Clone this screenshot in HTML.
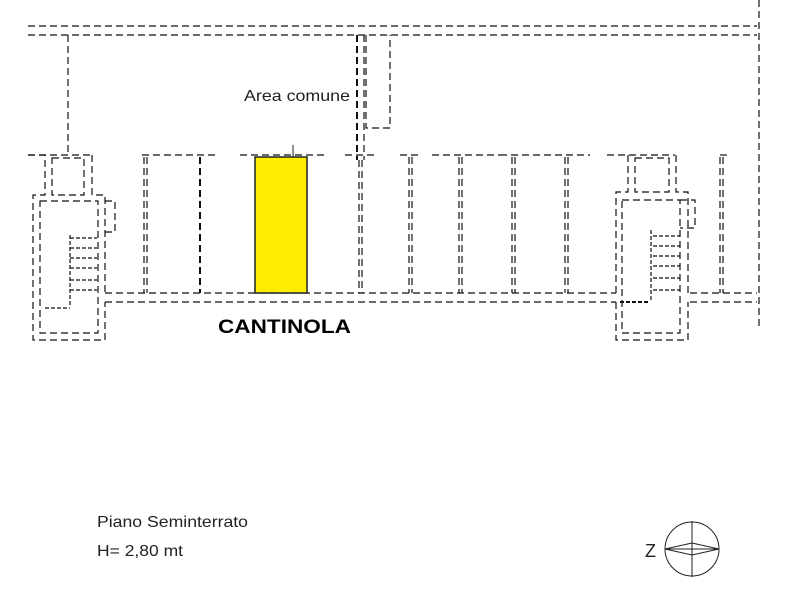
<!DOCTYPE html>
<html><head><meta charset="utf-8"><style>
html,body{margin:0;padding:0;background:#fff;}
svg{display:block;}
text{font-family:"Liberation Sans",sans-serif;}
</style></head><body>
<svg width="800" height="600" viewBox="0 0 800 600" xmlns="http://www.w3.org/2000/svg">
<g fill="none" stroke="#111" stroke-width="1.2" stroke-dasharray="7 4">
<line x1="28" y1="26" x2="757" y2="26"/>
<line x1="28" y1="35" x2="757" y2="35"/>
<line x1="759" y1="0" x2="759" y2="328"/>
<line x1="68" y1="35" x2="68" y2="155"/>
<line x1="357" y1="35" x2="357" y2="160" stroke-width="2"/>
<line x1="364" y1="35" x2="364" y2="160"/>
<polyline points="366,35 366,128 390,128 390,35"/>
<line x1="28" y1="155" x2="92" y2="155"/>
<line x1="142" y1="155" x2="218" y2="155"/>
<line x1="240" y1="155" x2="325" y2="155"/>
<line x1="345" y1="155" x2="378" y2="155"/>
<line x1="400" y1="155" x2="420" y2="155"/>
<line x1="432" y1="155" x2="500" y2="155"/>
<line x1="500" y1="155" x2="590" y2="155"/>
<line x1="607" y1="155" x2="675" y2="155"/>
<line x1="720" y1="155" x2="730" y2="155"/>
<line x1="144" y1="157" x2="144" y2="293"/><line x1="147" y1="157" x2="147" y2="293"/>
<line x1="200" y1="157" x2="200" y2="293" stroke-width="2"/>
<line x1="359" y1="160" x2="359" y2="293"/><line x1="362" y1="160" x2="362" y2="293"/>
<line x1="409" y1="157" x2="409" y2="293"/><line x1="412" y1="157" x2="412" y2="293"/>
<line x1="459" y1="157" x2="459" y2="293"/><line x1="462" y1="157" x2="462" y2="293"/>
<line x1="512" y1="157" x2="512" y2="293"/><line x1="515" y1="157" x2="515" y2="293"/>
<line x1="565" y1="157" x2="565" y2="293"/><line x1="568" y1="157" x2="568" y2="293"/>
<line x1="720" y1="157" x2="720" y2="293"/><line x1="723" y1="157" x2="723" y2="293"/>
<line x1="105" y1="293" x2="616" y2="293"/>
<line x1="105" y1="302" x2="616" y2="302"/>
<line x1="690" y1="293" x2="757" y2="293"/>
<line x1="690" y1="302" x2="757" y2="302"/>
<polyline points="28,155 45,155 45,195 33,195 33,340 105,340 105,302"/>
<polyline points="92,155 92,195 105,195 105,293"/>
<rect x="52" y="158" width="32" height="37"/>
<rect x="40" y="201" width="58" height="132"/>
<polyline points="105,201 115,201 115,232 105,232"/>
<g stroke-dasharray="4 2"><line x1="70" y1="238" x2="97" y2="238"/><line x1="70" y1="248" x2="97" y2="248"/><line x1="70" y1="258" x2="97" y2="258"/><line x1="70" y1="268" x2="97" y2="268"/><line x1="70" y1="280" x2="97" y2="280"/><line x1="70" y1="290" x2="97" y2="290"/><line x1="70" y1="235" x2="70" y2="305"/><line x1="45" y1="308" x2="70" y2="308"/></g>
<polyline points="616,293 616,192 628,192 628,155"/>
<polyline points="676,155 676,192 688,192 688,293"/>
<rect x="635" y="158" width="34" height="34"/>
<rect x="622" y="200" width="58" height="133"/>
<polyline points="616,302 616,340 688,340 688,302"/>
<polyline points="680,200 695,200 695,228 680,228"/>
<g stroke-dasharray="4 2"><line x1="653" y1="236" x2="680" y2="236"/><line x1="653" y1="246" x2="680" y2="246"/><line x1="653" y1="256" x2="680" y2="256"/><line x1="653" y1="266" x2="680" y2="266"/><line x1="653" y1="278" x2="680" y2="278"/><line x1="653" y1="290" x2="680" y2="290"/><line x1="651" y1="230" x2="651" y2="300"/><line x1="620" y1="302" x2="650" y2="302" stroke-width="2"/></g>
</g>
<rect x="255" y="157" width="52" height="136" fill="#ffee00" stroke="#222" stroke-width="1.5"/>
<line x1="293" y1="145" x2="293" y2="157" stroke="#222"/>
<text x="244" y="101" font-size="16" fill="#222" textLength="106" lengthAdjust="spacingAndGlyphs">Area comune</text>
<text x="218" y="333" font-size="19" font-weight="bold" fill="#000" textLength="133" lengthAdjust="spacingAndGlyphs">CANTINOLA</text>
<text x="97" y="527" font-size="16" fill="#222" textLength="151" lengthAdjust="spacingAndGlyphs">Piano Seminterrato</text>
<text x="97" y="556" font-size="16" fill="#222" textLength="86" lengthAdjust="spacingAndGlyphs">H= 2,80 mt</text>
<g stroke="#222" stroke-width="1" fill="none">
<circle cx="692" cy="549" r="27"/>
<line x1="692" y1="521" x2="692" y2="577"/>
<polygon points="665,549 692,543 719,549 692,555"/>
<line x1="665" y1="549" x2="719" y2="549"/>
</g>
<text x="645" y="557" font-size="18" fill="#222">Z</text>
</svg>
</body></html>
